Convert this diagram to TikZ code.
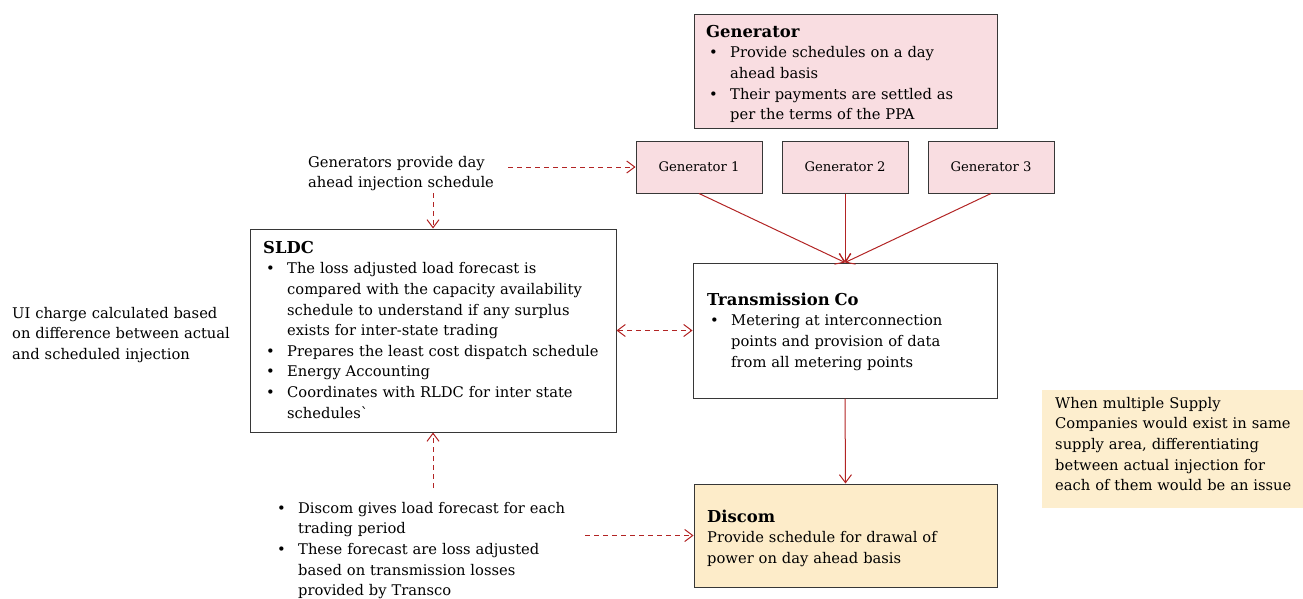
\documentclass[tikz,border=0pt]{standalone}
\usepackage{fontspec}
\setmainfont{DejaVu Serif}
\usetikzlibrary{arrows.meta}

\definecolor{flowred}{RGB}{178,36,36}
\definecolor{genpink}{RGB}{249,221,225}
\definecolor{discomfill}{RGB}{253,236,201}
\definecolor{notefill}{RGB}{253,238,206}
\definecolor{boxline}{RGB}{55,55,55}

% bullet marker, continuation indent and box headings
\newcommand\bitm{\makebox[24pt][l]{\hspace*{3pt}\textbullet}}
\newcommand\cont{\hspace*{24pt}}
\newcommand\heading[1]{{\fontsize{16.4}{20.6}\selectfont\bfseries #1}}

\tikzset{
  box/.style={draw=boxline, line width=1pt, inner sep=0pt},
  genbox/.style={box, fill=genpink, minimum width=126, minimum height=52,
    font=\fontsize{13.2}{16}\selectfont},
  txt/.style={inner sep=0pt, anchor=north west, align=left,
    font=\fontsize{14.7}{20.6}\selectfont},
  flow/.style={draw=flowred, line width=1pt,
    -{Straight Barb[length=8pt,width=12pt]}},
  dashflow/.style={flow, dash pattern=on 5pt off 4pt},
  bothflow/.style={dashflow,
    {Straight Barb[length=8pt,width=12pt]}-{Straight Barb[length=8pt,width=12pt]}},
}

\begin{document}
\begin{tikzpicture}[x=1pt,y=-1pt]
\useasboundingbox (0,0) rectangle (1303,599);

% ---- boxes ----
\node[box, fill=genpink, minimum width=303, minimum height=114] (gen) at (845.5,72) {};
\node[genbox] (g1) at (699,167) {Generator 1};
\node[genbox] (g2) at (845,167) {Generator 2};
\node[genbox] (g3) at (991,167) {Generator 3};
\node[box, fill=white, minimum width=366, minimum height=203] (sldc) at (433,330.5) {};
\node[box, fill=white, minimum width=304, minimum height=135] (tc) at (845,330.5) {};
\node[box, fill=discomfill, minimum width=303, minimum height=103] (discom) at (845.5,535.5) {};
\node[fill=notefill, inner sep=0pt, minimum width=261, minimum height=118] (note) at (1172.5,449) {};

% ---- box texts ----
\node[txt, text width=320pt] (gentext) at (706,22.6)
  {\strut\heading{Generator}\\
   \bitm Provide schedules on a day\\
   \cont ahead basis\\
   \bitm Their payments are settled as\\
   \cont per the terms of the PPA};

\node[txt, text width=400pt] (sldctext) at (263,238.6)
  {\strut\heading{SLDC}\\
   \bitm The loss adjusted load forecast is\\
   \cont compared with the capacity availability\\
   \cont schedule to understand if any surplus\\
   \cont exists for inter-state trading\\
   \bitm Prepares the least cost dispatch schedule\\
   \bitm Energy Accounting\\
   \bitm Coordinates with RLDC for inter state\\
   \cont schedules\textasciigrave};

\node[txt, text width=320pt] (tctext) at (707,290.6)
  {\strut\heading{Transmission Co}\\
   \bitm Metering at interconnection\\
   \cont points and provision of data\\
   \cont from all metering points};

\node[txt, text width=320pt] (discomtext) at (707,507.6)
  {\strut\heading{Discom}\\
   Provide schedule for drawal of\\
   power on day ahead basis};

\node[txt, text width=290pt] (notetext) at (1055,393.6)
  {\strut When multiple Supply\\
   Companies would exist in same\\
   supply area, differentiating\\
   between actual injection for\\
   each of them would be an issue};

% ---- free texts ----
\node[txt, text width=270pt] (uitext) at (12,303.6)
  {\strut UI charge calculated based\\
   on difference between actual\\
   and scheduled injection};

\node[txt, text width=240pt] (schedtext) at (308,152.6)
  {\strut Generators provide day\\
   ahead injection schedule};

\node[txt, text width=340pt] (loadtext) at (274,498.6)
  {\strut\bitm Discom gives load forecast for each\\
   \cont trading period\\
   \bitm These forecast are loss adjusted\\
   \cont based on transmission losses\\
   \cont provided by Transco};

% ---- connector ends next to the free texts ----
\coordinate (schedR) at (508,167);
\coordinate (schedB) at (433,193);
\coordinate (loadT) at (433,488);
\coordinate (loadR) at (585,535.5);

% ---- connectors ----
\draw[flow] (g1.south) -- (tc.north);
\draw[flow] (g2.south) -- (tc.north);
\draw[flow] (g3.south) -- (tc.north);
\draw[flow] (tc.south) -- (discom.north);

\draw[dashflow] (schedR) -- (g1.west);
\draw[dashflow] (schedB) -- (sldc.north);
\draw[bothflow] (sldc.east) -- (tc.west);
\draw[dashflow] (loadT) -- (sldc.south);
\draw[dashflow] (loadR) -- (discom.west);
\end{tikzpicture}
\end{document}
